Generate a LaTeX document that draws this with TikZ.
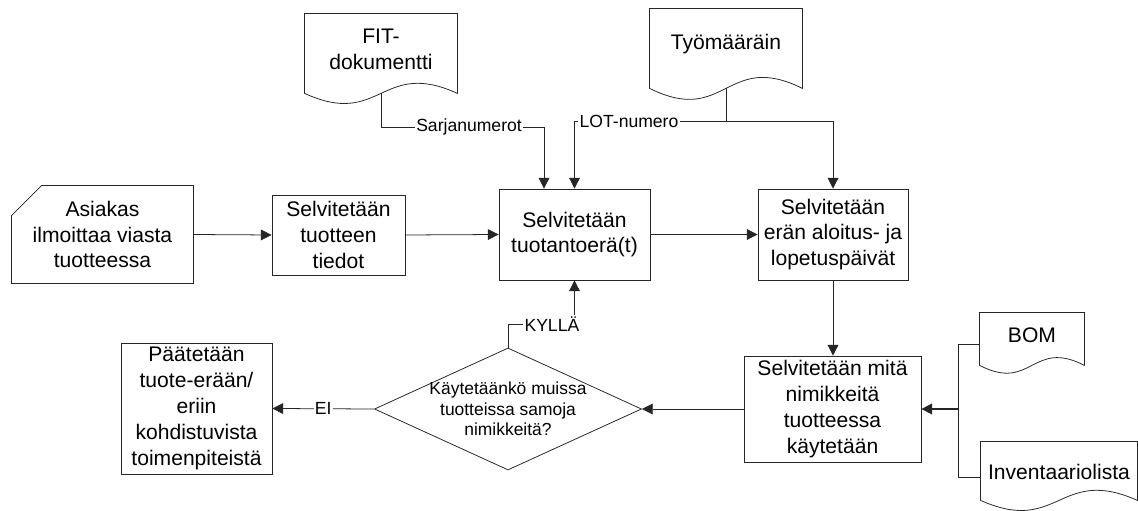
\documentclass[tikz,border=0pt]{standalone}
\usepackage{fontspec}
\setmainfont{Liberation Sans}
\usetikzlibrary{arrows.meta,shapes.geometric,calc}

\tikzset{
  teksti/.style={font=\fontsize{15}{18.4}\selectfont, align=center, inner sep=0pt},
  laatikko/.style={teksti, draw, rectangle},
  paperi/.style={teksti, rectangle},
  valinta/.style={draw, diamond, aspect=2.19, inner sep=-1pt, align=center,
    font=\fontsize{12.4}{14.4}\selectfont, minimum width=6.675cm, minimum height=3.05cm},
  nuoli/.style={-{Triangle[length=0.27cm,width=0.27cm]}},
  selite/.style={fill=white, inner sep=1pt, font=\fontsize{12.5}{14.2}\selectfont},
}
% paperin aaltoileva alareuna: nimi, reunan jatko, aallon korkeus
\newcommand{\dokumentti}[3]{%
  \draw (#1.north west) -- ($(#1.south west)+(0,#2)$)
    .. controls ($(#1.south)+(0,#2+#3)$) and ($(#1.south)+(0,#2-#3)$)
    .. ($(#1.south east)+(0,#2)$) -- (#1.north east) -- cycle;}

\begin{document}
\begin{tikzpicture}[x=0.025cm, y=-0.025cm, line width=0.55pt, draw=black!85]
        \useasboundingbox (0,0) rectangle (1138,511);
        % vaiheet
        \node[paperi, minimum width=4.525cm, minimum height=2.425cm] (asiakas) at (102.5,234.5) {Asiakas\\ilmoittaa viasta\\tuotteessa};
        \draw ($(asiakas.north west)+(30,0)$) -- (asiakas.north east) -- (asiakas.south east)
          -- (asiakas.south west) -- ($(asiakas.north west)+(0,30)$) -- cycle;
        \node[laatikko, minimum width=3.325cm, minimum height=2cm] (tiedot) at (338.5,235) {Selvitetään\\tuotteen\\tiedot};
        \node[laatikko, minimum width=3.775cm, minimum height=2.275cm] (tuotantoera) at (574.5,234.5) {Selvitetään\\tuotantoerä(t)};
        \node[laatikko, minimum width=3.75cm, minimum height=2.275cm] (paivat) at (833,234.5) {Selvitetään\\erän aloitus- ja\\lopetuspäivät};
        \node[laatikko, minimum width=4.425cm, minimum height=2.65cm] (nimikkeet) at (832.5,409) {Selvitetään mitä\\nimikkeitä\\tuotteessa\\käytetään};
        \node[valinta] (kysymys) at (508,409) {Käytetäänkö muissa\\tuotteissa samoja\\nimikkeitä?};
        \node[laatikko, minimum width=3.775cm, minimum height=3.275cm] (toimet) at (196.5,408.5) {Päätetään\\tuote-erään/\\eriin\\kohdistuvista\\toimenpiteistä};
        % dokumentit
        \node[paperi, minimum width=3.8cm, minimum height=1.75cm] (fit) at (381,49) {FIT-\\dokumentti};
        \node[paperi, minimum width=3.8cm, minimum height=1.75cm] (tyomaarain) at (726,44) {Työmääräin};
        \node[paperi, minimum width=2.6cm, minimum height=1.1cm] (bom) at (1032,335) {BOM};
        \node[paperi, minimum width=3.9cm, minimum height=1.5cm] (inventaario) at (1059,472) {Inventaariolista};
        \dokumentti{fit}{9}{35}
        \dokumentti{tyomaarain}{9}{38}
        \dokumentti{bom}{8}{27}
        \dokumentti{inventaario}{-2}{35}
        \coordinate (fitjalka) at ($(fit.south)+(0,9)$);
        \coordinate (tyojalka) at ($(tyomaarain.south)+(0,9)$);
        \coordinate (sarjakulma) at (544,127);
        \coordinate (lotkulma) at (726,121);
        \coordinate (kyllakulma) at (574.5,324);
        \coordinate (bomjalka) at ($(bom.west)+(0,9)$);
        \coordinate (inventjalka) at ($(inventaario.west)+(0,5)$);
        \coordinate (kokooja) at (958,409);
        % yhteydet
        \draw[nuoli] (asiakas.east) -- (tiedot.west);
        \draw[nuoli] (tiedot.east) -- (tuotantoera.west);
        \draw[nuoli] (tuotantoera.east) -- (paivat.west);
        \draw[nuoli] (paivat.south) -- (paivat.south |- nimikkeet.north);
        \draw[nuoli] (nimikkeet.west) -- (kysymys.east);
        \draw[nuoli] (kysymys.west) -- node[selite]{EI} (toimet.east);
        \draw[nuoli] (kysymys.north) |- node[selite, pos=0.83]{KYLLÄ} (kyllakulma) -- (tuotantoera.south);
        \draw[nuoli] (fitjalka) |- node[selite, pos=0.77]{Sarjanumerot} (sarjakulma) -- (sarjakulma |- tuotantoera.north);
        \draw (tyojalka) -- (lotkulma);
        \draw[nuoli] (lotkulma) -| node[selite, pos=0.32]{LOT-numero} (tuotantoera.north);
        \draw[nuoli] (lotkulma) -| (paivat.north);
        \draw (bomjalka) -| (kokooja) |- (inventjalka);
        \draw[nuoli, line width=1.2pt] (kokooja) -- (nimikkeet.east);
\end{tikzpicture}
\end{document}
